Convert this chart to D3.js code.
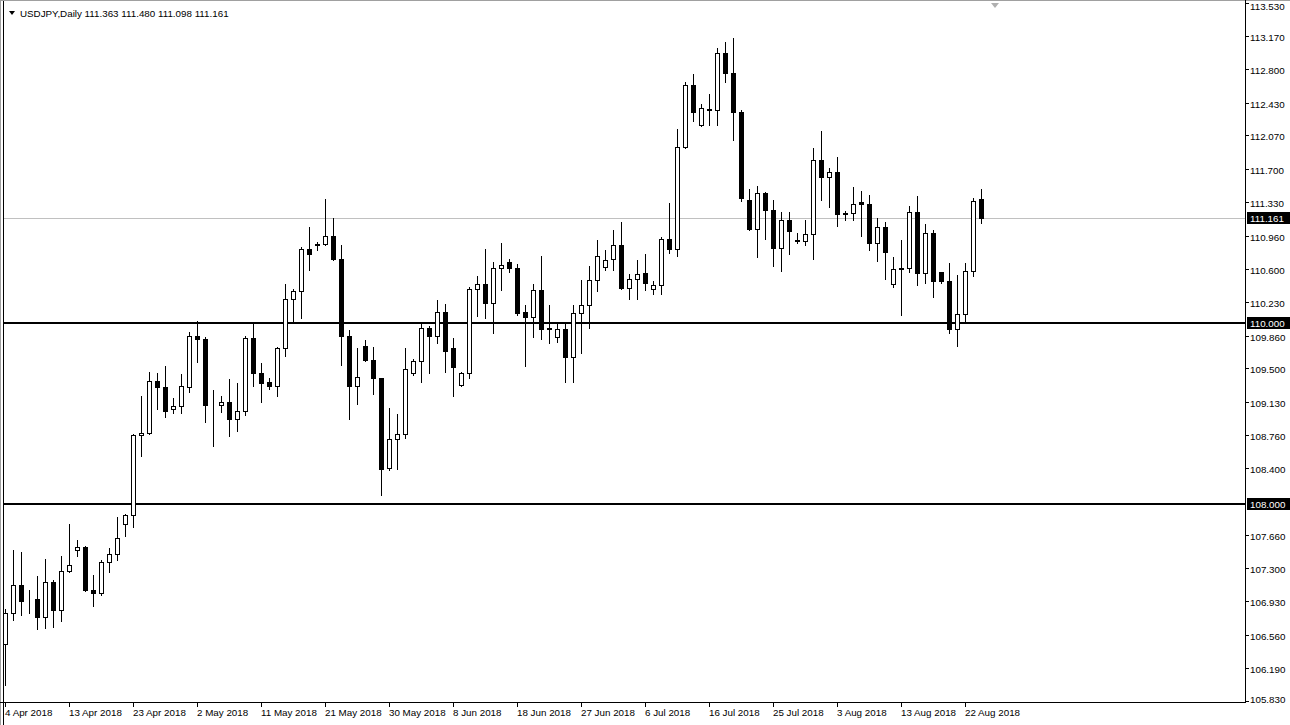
<!DOCTYPE html>
<html><head><meta charset="utf-8">
<script src="https://cdn.jsdelivr.net/npm/d3@7/dist/d3.min.js"></script>
<style>
html,body{margin:0;padding:0;background:#fff;}
svg{display:block;}
text{font-family:"Liberation Sans",Arial,sans-serif;}
</style></head>
<body><svg id="c" width="1290" height="725"></svg>
<script>
// ---- data ----
const title = "USDJPY,Daily";
const lastQuote = ["111.363","111.480","111.098","111.161"];
const open = [106.46,106.80,107.11,106.95,106.96,106.76,107.14,106.83,107.26,107.50,
107.53,107.06,107.02,107.36,107.45,107.78,107.88,108.76,108.79,109.36,
109.29,109.05,109.08,109.29,109.86,109.82,109.09,109.10,109.13,108.94,
109.03,109.83,109.45,109.35,109.30,109.72,110.27,110.35,110.82,110.87,
110.87,110.96,110.71,109.86,109.30,109.75,109.59,109.39,108.40,108.72,
108.77,109.45,109.58,109.95,109.86,110.12,109.72,109.32,109.45,110.37,
110.43,110.22,110.61,110.67,110.61,110.12,110.07,110.36,109.93,109.84,
109.93,109.62,110.11,110.20,110.47,110.62,110.71,110.86,110.39,110.48,
110.55,110.37,110.42,110.93,110.82,111.94,112.63,112.18,112.36,112.35,
112.98,112.76,112.33,111.36,111.04,111.43,111.25,110.83,111.14,110.92,
110.91,110.98,111.80,111.61,111.67,111.21,111.21,111.33,111.31,110.88,
111.06,110.43,110.60,110.61,111.22,110.55,110.99,110.56,110.46,109.93,
110.10,110.57,111.363];
const high = [106.85,107.50,107.47,107.05,107.21,107.40,107.17,107.43,107.78,107.61,
107.54,107.22,107.39,107.52,107.86,107.89,108.78,109.20,109.46,109.45,
109.53,109.17,109.44,109.90,110.02,109.85,109.26,109.20,109.38,109.34,
109.86,110.00,109.56,109.39,109.73,110.43,110.38,110.84,111.06,110.89,
111.37,111.16,110.86,109.92,109.72,109.81,109.73,109.39,109.06,109.00,
109.72,109.60,109.99,109.97,110.25,110.21,109.83,109.46,110.40,110.52,
110.82,110.67,110.88,110.71,110.65,110.20,110.43,110.74,110.20,110.00,
110.01,110.20,110.47,110.63,110.92,110.81,111.03,111.11,110.54,110.70,
110.76,110.46,110.95,111.32,112.14,112.66,112.75,112.42,112.53,113.03,
113.10,113.14,112.35,111.48,111.51,111.44,111.36,111.22,111.22,110.99,
111.14,111.93,112.12,111.71,111.83,111.24,111.50,111.46,111.41,111.16,
111.11,110.73,110.92,111.29,111.40,111.09,111.03,110.56,110.66,110.53,
110.66,111.38,111.480];
const low = [106.01,106.72,106.78,106.80,106.62,106.63,106.65,106.71,107.25,107.43,
107.04,106.88,107.00,107.25,107.39,107.65,107.75,108.53,108.78,109.05,
108.96,109.01,109.01,109.24,109.57,108.91,108.64,109.02,108.75,108.81,
108.99,109.30,109.13,109.27,109.19,109.64,110.01,110.05,110.59,110.80,
110.86,110.70,109.54,108.94,109.11,109.58,109.22,108.10,108.38,108.39,
108.73,109.43,109.35,109.45,109.78,109.46,109.19,109.30,109.39,110.08,
110.06,109.89,110.36,110.56,110.09,109.53,109.84,109.82,109.78,109.79,
109.35,109.35,109.67,109.95,110.35,110.58,110.58,110.37,110.26,110.26,
110.36,110.32,110.32,110.77,110.74,111.93,112.23,112.17,112.18,112.18,
112.66,112.02,111.35,111.03,110.73,110.93,110.63,110.57,110.76,110.88,
110.86,110.71,111.36,111.28,111.07,111.14,111.14,110.96,110.81,110.68,
110.49,110.40,110.09,110.56,110.42,110.44,110.29,110.44,109.89,109.75,
110.00,110.52,111.098];
const close = [106.80,107.11,106.93,106.96,106.76,107.14,106.83,107.26,107.33,107.53,
107.06,107.02,107.36,107.45,107.63,107.88,108.76,108.79,109.36,109.29,
109.03,109.08,109.31,109.86,109.82,109.09,109.09,109.13,108.94,109.03,
109.83,109.45,109.34,109.30,109.72,110.27,110.35,110.82,110.76,110.86,
110.96,110.71,109.86,109.30,109.40,109.59,109.39,108.39,108.72,108.77,
109.49,109.58,109.95,109.86,110.12,109.69,109.52,109.45,110.37,110.43,
110.22,110.61,110.64,110.61,110.11,110.07,110.36,109.93,109.94,109.93,
109.62,110.11,110.20,110.47,110.74,110.70,110.86,110.39,110.48,110.54,
110.44,110.42,110.93,110.82,111.94,112.63,112.33,112.37,112.35,112.98,
112.76,112.33,111.38,111.04,111.43,111.25,110.83,111.14,111.01,110.91,
110.98,111.80,111.61,111.67,111.20,111.20,111.31,111.31,110.88,111.06,
110.78,110.60,110.61,111.22,110.55,110.99,110.46,110.46,109.93,110.10,
110.57,111.35,111.161];
const dateLabels = ["4 Apr 2018","13 Apr 2018","23 Apr 2018","2 May 2018","11 May 2018","21 May 2018","30 May 2018","8 Jun 2018","18 Jun 2018","27 Jun 2018","6 Jul 2018","16 Jul 2018","25 Jul 2018","3 Aug 2018","13 Aug 2018","22 Aug 2018"];
const dateLabelIdx = [0,8,16,24,32,40,48,56,64,72,80,88,96,104,112,120];
const priceTicks = [113.53,113.17,112.80,112.43,112.07,111.70,111.33,110.96,110.60,110.23,109.86,109.50,109.13,108.76,108.40,107.66,107.30,106.93,106.56,106.19,105.83];
const levels = [110.000, 108.000];
const bid = 111.161;

// ---- layout ----
const svg = d3.select("#c");
const plotR = 1245, plotB = 702;
const y = d3.scaleLinear().domain([105.83, 113.53]).range([701, 3]);
const x = d3.scaleLinear().domain([0, 122]).range([5, 981]);
const px = i => Math.round(x(i));
const py = v => Math.round(y(v));

svg.append("rect").attr("x",0).attr("y",0).attr("width",1290).attr("height",725).attr("fill","#fff");

// bid line
svg.append("line").attr("x1",1).attr("x2",plotR).attr("y1",py(bid)+0.5).attr("y2",py(bid)+0.5)
  .attr("stroke","#c0c0c0").attr("stroke-width",1);

// horizontal levels
svg.selectAll("line.lvl").data(levels).enter().append("line").attr("class","lvl")
  .attr("x1",1).attr("x2",plotR).attr("y1",d=>py(d)).attr("y2",d=>py(d))
  .attr("stroke","#000").attr("stroke-width",2);

// candles
const data = open.map((o,i)=>({i,o,h:high[i],l:low[i],c:close[i]}));
const g = svg.append("g").attr("class","candles");
g.selectAll("line.wick").data(data).enter().append("line")
  .attr("x1",d=>px(d.i)+0.5).attr("x2",d=>px(d.i)+0.5)
  .attr("y1",d=>py(d.h)).attr("y2",d=>py(d.l)+1)
  .attr("stroke","#000").attr("stroke-width",1);
g.selectAll("rect.body").data(data).enter().append("rect")
  .attr("x",d=>px(d.i)-1.5).attr("width",4)
  .attr("y",d=>py(Math.max(d.o,d.c))+0.5)
  .attr("height",d=>Math.max(0,py(Math.min(d.o,d.c))-py(Math.max(d.o,d.c))))
  .attr("fill",d=>d.c>=d.o?"#fff":"#000").attr("stroke","#000").attr("stroke-width",1);

// window border at the left / top
svg.append("rect").attr("x",0).attr("y",0).attr("width",3).attr("height",725).attr("fill","#fff");
svg.append("line").attr("x1",0.5).attr("x2",0.5).attr("y1",0).attr("y2",725).attr("stroke","#a0a0a0");
svg.append("line").attr("x1",3.5).attr("x2",3.5).attr("y1",0).attr("y2",725).attr("stroke","#000");
svg.append("line").attr("x1",0).attr("x2",1290).attr("y1",0.5).attr("y2",0.5).attr("stroke","#a0a0a0");

// right price axis
svg.append("line").attr("x1",plotR+0.5).attr("x2",plotR+0.5).attr("y1",0).attr("y2",plotB).attr("stroke","#000");
const ax = svg.append("g");
ax.selectAll("line").data(priceTicks).enter().append("line")
  .attr("x1",plotR+1).attr("x2",plotR+4).attr("y1",d=>py(d)+0.5).attr("y2",d=>py(d)+0.5).attr("stroke","#000");
ax.selectAll("text").data(priceTicks).enter().append("text")
  .attr("x",plotR+5).attr("y",d=>Math.min(Math.max(py(d)+1,6),699)+3.5)
  .attr("font-size","9.8px").attr("fill","#000").text(d=>d.toFixed(3));

// boxed labels
const boxes = levels.concat([bid]);
const bg = svg.selectAll("g.box").data(boxes).enter().append("g").attr("class","box");
bg.append("rect").attr("x",plotR+2).attr("y",d=>py(d)-6).attr("width",43).attr("height",12).attr("fill","#000");
bg.append("text").attr("x",plotR+5).attr("y",d=>py(d)+3.5).attr("font-size","9.8px").attr("fill","#fff").text(d=>d.toFixed(3));

// bottom time axis
svg.append("line").attr("x1",0).attr("x2",plotR+1).attr("y1",plotB+0.5).attr("y2",plotB+0.5).attr("stroke","#000");
const tg = svg.selectAll("g.tick").data(dateLabelIdx).enter().append("g").attr("class","tick");
tg.append("line").attr("x1",d=>px(d)+0.5).attr("x2",d=>px(d)+0.5).attr("y1",plotB+1).attr("y2",plotB+5).attr("stroke","#000");
tg.append("text").attr("x",d=>px(d)).attr("y",plotB+14).attr("font-size","9.8px").text((d,i)=>dateLabels[i]);

// header
svg.append("path").attr("d","M9,11 L15,11 L12,15 Z").attr("fill","#000");
svg.append("text").attr("x",20).attr("y",17).attr("font-size","9.8px").attr("fill","#000")
  .text(title + "  " + lastQuote.join(" "));
// shift marker
svg.append("path").attr("d","M991,3 L999,3 L995,8 Z").attr("fill","#b0b0b0");
</script></body></html>
